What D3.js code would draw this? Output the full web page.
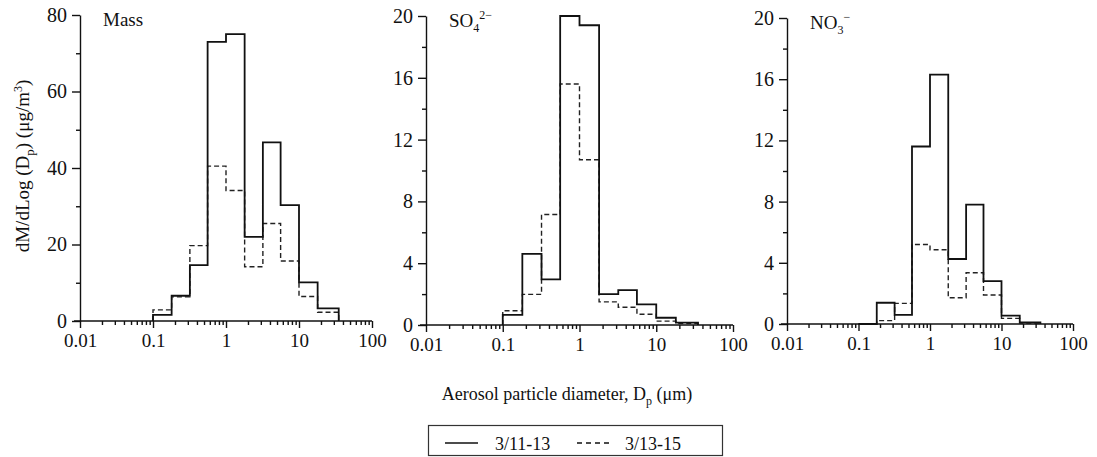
<!DOCTYPE html>
<html>
<head>
<meta charset="utf-8">
<script src="https://cdn.jsdelivr.net/npm/d3@7"></script>
<style>
  body { margin: 0; background: #fff; }
  svg { display: block; }
  text { font-family: "Liberation Serif", "Times New Roman", serif; fill: #111; }
</style>
</head>
<body>
<script>
// impactor stage edges (um) and dM/dlogDp per stage
var edges = [0.1, 0.18, 0.32, 0.56, 1.0, 1.8, 3.2, 5.6, 10, 18, 35];
var mass1 = [1.6, 6.6, 14.6, 73, 75, 22, 46.7, 30.3, 10.1, 3.3];
var mass2 = [2.9, 6.3, 19.7, 40.5, 34.1, 14.2, 25.5, 15.7, 6.4, 2.3];
var so41 = [0.65, 4.6, 2.95, 20, 19.4, 2.0, 2.26, 1.34, 0.47, 0.15];
var so42 = [0.92, 1.98, 7.15, 15.6, 10.7, 1.5, 1.15, 0.7, 0.25, 0.1];
var no31 = [0, 1.39, 0.59, 11.6, 16.3, 4.25, 7.8, 2.8, 0.55, 0.1];
var no32 = [0, 0.22, 1.35, 5.2, 4.85, 1.72, 3.35, 1.9, 0.37, 0.05];
var xTicks = [0.01, 0.1, 1, 10, 100];
var massTicks = [0, 20, 40, 60, 80];
var ionTicks = [0, 4, 8, 12, 16, 20];
var seriesNames = ["3/11-13", "3/13-15"];

var W = 1097, H = 457;
var svg = d3.select("body").append("svg").attr("width", W).attr("height", H);

var panels = [
  {title: "Mass", a: mass1, b: mass2, ymax: 80, ticks: massTicks, minor: [10, 30, 50, 70],
   x0: 80, x1: 372, yb: 321, yt: 15},
  {title: "SO4", a: so41, b: so42, ymax: 20, ticks: ionTicks, minor: [2, 6, 10, 14, 18],
   x0: 426, x1: 733, yb: 325, yt: 16},
  {title: "NO3", a: no31, b: no32, ymax: 20, ticks: ionTicks, minor: [2, 6, 10, 14, 18],
   x0: 787, x1: 1073, yb: 324, yt: 18}
];

var minorX = [];
[0.01, 0.1, 1, 10].forEach(function(d) {
  for (var k = 2; k <= 9; k++) minorX.push(d * k);
});

function stepPts(vals) {
  var pts = [[edges[0], 0]];
  vals.forEach(function(v, i) { pts.push([edges[i], v]); });
  pts.push([edges[edges.length - 1], vals[vals.length - 1]]);
  pts.push([edges[edges.length - 1], 0]);
  return pts;
}

panels.forEach(function(p) {
  var x = d3.scaleLog().domain([0.01, 100]).range([p.x0, p.x1]);
  var y = d3.scaleLinear().domain([0, p.ymax]).range([p.yb, p.yt]);
  var g = svg.append("g");

  var line = d3.line()
    .x(function(d) { return x(d[0]); })
    .y(function(d) { return y(d[1]); })
    .curve(d3.curveStepAfter);

  // x axis
  var xa = g.append("g").attr("transform", "translate(0," + p.yb + ")");
  xa.call(d3.axisBottom(x).tickValues(xTicks).tickSize(7).tickSizeOuter(0).tickPadding(6)
    .tickFormat(function(d) { return String(d); }));
  xa.append("g").call(d3.axisBottom(x).tickValues(minorX).tickSize(4).tickFormat(""))
    .select(".domain").remove();
  xa.selectAll("text").style("font-size", "19px").style("font-family", "Liberation Serif");
  xa.selectAll("path.domain").attr("d", "M" + (p.x0 - 6) + ",0H" + p.x1);

  // y axis
  var ya = g.append("g").attr("transform", "translate(" + p.x0 + ",0)");
  ya.call(d3.axisLeft(y).tickValues(p.ticks).tickSize(8).tickSizeOuter(0).tickPadding(5));
  ya.append("g").call(d3.axisLeft(y).tickValues(p.minor).tickSize(4).tickFormat(""))
    .select(".domain").remove();
  ya.selectAll("text").style("font-size", "20px").style("font-family", "Liberation Serif");

  g.selectAll(".domain, .tick line").attr("stroke", "#111").attr("stroke-width", 1.4);

  // histograms
  g.append("path").attr("d", line(stepPts(p.b)))
    .attr("fill", "none").attr("stroke", "#222").attr("stroke-width", 1.4)
    .attr("stroke-dasharray", "5,3");
  g.append("path").attr("d", line(stepPts(p.a)))
    .attr("fill", "none").attr("stroke", "#111").attr("stroke-width", 1.8);

  // panel title
  var t = g.append("text").attr("x", p.x0 + 23).attr("y", p.yt + 11).style("font-size", "19px");
  if (p.title === "Mass") {
    t.text("Mass");
  } else {
    t.append("tspan").text(p.title.slice(0, 2));
    t.append("tspan").attr("dy", 5).style("font-size", "12px").text(p.title.slice(2));
    t.append("tspan").attr("dy", -13).style("font-size", "12px")
      .text(p.title === "SO4" ? "2\u2212" : "\u2212");
  }
});

// y label
var yl = svg.append("text")
  .attr("transform", "translate(29,166) rotate(-90)")
  .attr("text-anchor", "middle").style("font-size", "19px");
yl.append("tspan").text("dM/dLog (D");
yl.append("tspan").attr("dy", 5).style("font-size", "13px").text("p");
yl.append("tspan").attr("dy", -5).text(") (\u03bcg/m");
yl.append("tspan").attr("dy", -7).style("font-size", "12px").text("3");
yl.append("tspan").attr("dy", 7).text(")");

// x label
var xl = svg.append("text").attr("x", 567).attr("y", 400)
  .attr("text-anchor", "middle").style("font-size", "18px");
xl.append("tspan").text("Aerosol particle diameter, D");
xl.append("tspan").attr("dy", 5).style("font-size", "12px").text("p");
xl.append("tspan").attr("dy", -5).text(" (\u03bcm)");

// legend
var lg = svg.append("g");
lg.append("rect").attr("x", 428.5).attr("y", 425.5).attr("width", 294).attr("height", 30)
  .attr("fill", "none").attr("stroke", "#333").attr("stroke-width", 1.2);
lg.append("line").attr("x1", 445).attr("x2", 478).attr("y1", 443).attr("y2", 443)
  .attr("stroke", "#111").attr("stroke-width", 1.5);
lg.append("text").attr("x", 495).attr("y", 450).style("font-size", "18px").text(seriesNames[0]);
lg.append("line").attr("x1", 577).attr("x2", 611).attr("y1", 443).attr("y2", 443)
  .attr("stroke", "#111").attr("stroke-width", 1.4).attr("stroke-dasharray", "5,4");
lg.append("text").attr("x", 625).attr("y", 450).style("font-size", "18px").text(seriesNames[1]);
</script>
</body>
</html>
